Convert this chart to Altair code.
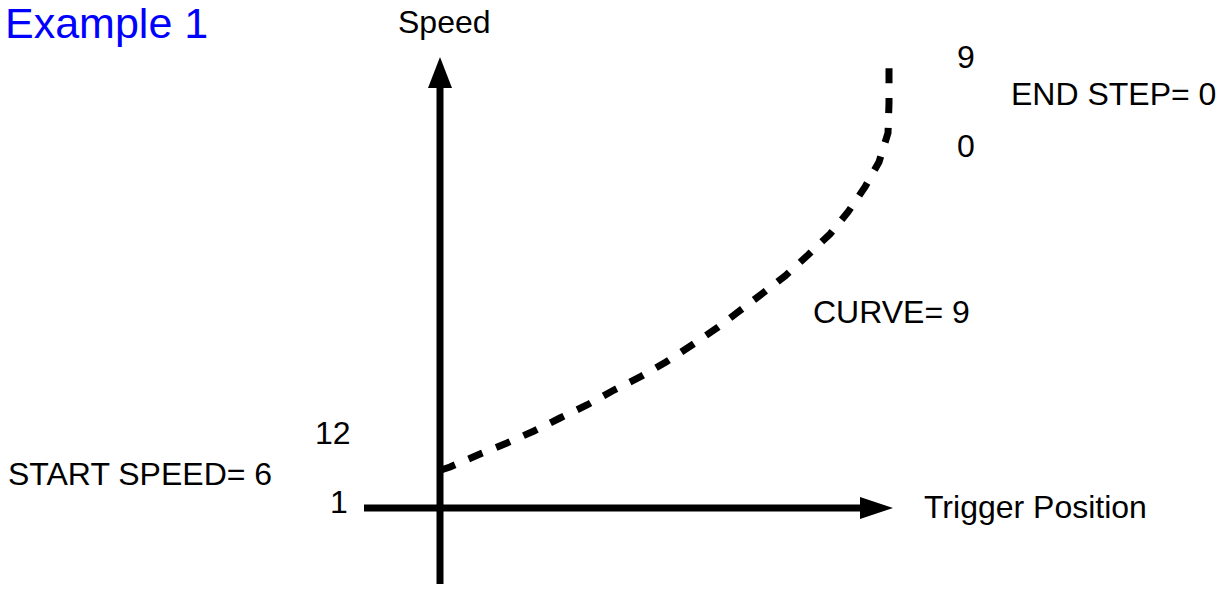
import altair as alt
import pandas as pd

# Diagram coordinates: pixels from the axis origin (right = trigger position, up = speed)
curve_pos = [1, 10, 40, 67, 94, 120, 147, 174, 200, 226, 252, 277, 298, 323,
             345, 368, 390, 408, 425, 439, 448, 449, 449, 449]
curve_speed = [38, 41, 54, 65, 77, 90, 103, 118, 131, 146, 163, 180, 196, 215,
               232, 253, 274, 296, 321, 346, 375, 405, 433, 441]

label_text = ["Speed", "9", "END STEP= 0", "0", "CURVE= 9", "12",
              "START SPEED= 6", "1", "Trigger Position"]
label_pos = [-42, 517, 571, 517, 373, -125, -432, -110, 484]
label_speed = [475, 440, 403, 351, 185, 64, 23, -5, -10]

title_text = ["Example 1"]
title_pos = [-435]
title_speed = [470]

X_DOMAIN = [-432, 783]
Y_DOMAIN = [-76, 500]


def X(f):
    return alt.X(f, type="quantitative", axis=None,
                 scale=alt.Scale(domain=X_DOMAIN, nice=False, zero=False))


def Y(f):
    return alt.Y(f, type="quantitative", axis=None,
                 scale=alt.Scale(domain=Y_DOMAIN, nice=False, zero=False))


curve_df = pd.DataFrame({"pos": curve_pos, "speed": curve_speed,
                         "i": list(range(len(curve_pos)))})
shaft_df = pd.DataFrame({"x": [0, -76], "x2": [0, 420],
                         "y": [-76, 0], "y2": [420, 0]})
head_up_df = pd.DataFrame({"v": [451, 420], "lo": [0, -12], "hi": [0, 12]})
head_right_df = pd.DataFrame({"u": [420, 453], "lo": [-11, 0], "hi": [11, 0]})
label_df = pd.DataFrame({"t": label_text, "x": label_pos, "y": label_speed})
title_df = pd.DataFrame({"t": title_text, "x": title_pos, "y": title_speed})

shafts = alt.Chart(shaft_df).mark_rule(color="black", strokeWidth=7).encode(
    x=X("x"), x2="x2", y=Y("y"), y2="y2")

head_up = alt.Chart(head_up_df).mark_area(color="black", orient="horizontal").encode(
    y=Y("v"), x=X("lo"), x2="hi")

head_right = alt.Chart(head_right_df).mark_area(color="black", orient="vertical").encode(
    x=X("u"), y=Y("lo"), y2="hi")

curve = alt.Chart(curve_df).mark_line(
    color="black", strokeWidth=7, strokeDash=[15, 14.8]).encode(
    x=X("pos"), y=Y("speed"), order="i:Q")

labels = alt.Chart(label_df).mark_text(
    align="left", baseline="alphabetic", font="Liberation Sans",
    fontSize=32, color="black").encode(x=X("x"), y=Y("y"), text="t:N")

title = alt.Chart(title_df).mark_text(
    align="left", baseline="alphabetic", font="Liberation Sans",
    fontSize=43, color="#0000FF").encode(x=X("x"), y=Y("y"), text="t:N")

chart = alt.layer(shafts, head_up, head_right, curve, labels, title).properties(
    width=1215, height=576, padding=0, autosize=alt.AutoSizeParams(type="none")
).configure_view(stroke=None)

chart.save("out.html", embed_options={"renderer": "svg", "actions": False})
